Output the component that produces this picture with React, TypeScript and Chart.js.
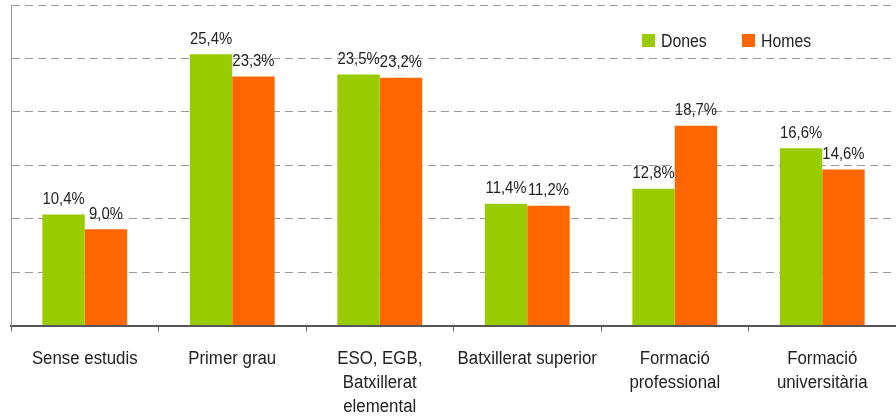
import React, { useEffect, useRef } from "react";
import { Chart, registerables } from "chart.js";

Chart.register(...registerables);

const categories: string[][] = [
  ["Sense estudis"],
  ["Primer grau"],
  ["ESO, EGB,", "Batxillerat", "elemental"],
  ["Batxillerat superior"],
  ["Formació", "professional"],
  ["Formació", "universitària"],
];
const dones = [10.4, 25.4, 23.5, 11.4, 12.8, 16.6];
const homes = [9.0, 23.3, 23.2, 11.2, 18.7, 14.6];
const seriesNames = ["Dones", "Homes"];
const seriesColors = ["#99CC00", "#FF6600"];

const FONT = "'Liberation Sans', Arial, sans-serif";
const SQUEEZE = 0.93;
const TEXT = "#222";

const fmt = (v: number) => v.toFixed(1).replace(".", ",") + "%";

function narrowText(ctx: CanvasRenderingContext2D, text: string, x: number, y: number, sx: number) {
  ctx.save();
  ctx.translate(x, y);
  ctx.scale(sx, 1);
  ctx.fillText(text, 0, 0);
  ctx.restore();
}

const labelsPlugin = {
  id: "valueLabels",
  afterDatasetsDraw(chart: any) {
    const ctx = chart.ctx;
    ctx.save();
    ctx.font = `16px ${FONT}`;
    ctx.fillStyle = TEXT;
    ctx.textAlign = "center";
    ctx.textBaseline = "alphabetic";
    chart.data.datasets.forEach((ds: any, i: number) => {
      const meta = chart.getDatasetMeta(i);
      meta.data.forEach((bar: any, j: number) => {
        narrowText(ctx, fmt(ds.data[j]), bar.x, bar.y - 10.5, SQUEEZE);
      });
    });
    ctx.restore();
  },
};

const xLabelsPlugin = {
  id: "xLabels",
  afterDraw(chart: any) {
    const ctx = chart.ctx;
    const xs = chart.scales.x;
    const base = chart.chartArea.bottom;
    ctx.save();
    ctx.font = `18px ${FONT}`;
    ctx.fillStyle = TEXT;
    ctx.textAlign = "center";
    ctx.textBaseline = "alphabetic";
    categories.forEach((lines, i) => {
      const x = xs.getPixelForTick(i);
      lines.forEach((line, k) => {
        narrowText(ctx, line, x, base + 38 + k * 24, 0.935);
      });
    });
    ctx.restore();
  },
};

const legendPlugin = {
  id: "customLegend",
  afterDraw(chart: any) {
    const ctx = chart.ctx;
    const area = chart.chartArea;
    ctx.save();
    ctx.font = `18px ${FONT}`;
    ctx.textBaseline = "alphabetic";
    ctx.textAlign = "left";
    let x = area.left + 631;
    const y = area.top + 29;
    seriesNames.forEach((name, i) => {
      ctx.fillStyle = seriesColors[i];
      ctx.fillRect(x, y, 13, 13);
      ctx.fillStyle = TEXT;
      narrowText(ctx, name, x + 19, y + 12.5, 0.88);
      x += 100;
    });
    ctx.restore();
  },
};

export default function App() {
  const ref = useRef<HTMLCanvasElement>(null);
  useEffect(() => {
    const chart = new Chart(ref.current!, {
      type: "bar",
      data: {
        labels: categories.map((l) => l.join(" ")),
        datasets: [
          { label: seriesNames[0], data: dones, backgroundColor: seriesColors[0], barPercentage: 1, categoryPercentage: 0.575 },
          { label: seriesNames[1], data: homes, backgroundColor: seriesColors[1], barPercentage: 1, categoryPercentage: 0.575 },
        ],
      },
      options: {
        animation: false,
        responsive: false,
        maintainAspectRatio: false,
        layout: { padding: { left: 11, top: 5, right: 0, bottom: 0 } },
        plugins: { legend: { display: false }, tooltip: { enabled: false } },
        scales: {
          x: {
            grid: { offset: true, drawOnChartArea: false, drawTicks: true, tickLength: 6, color: "#666", lineWidth: 1 },
            border: { display: true, color: "#555", width: 2 },
            ticks: { display: false, autoSkip: false },
            afterFit: (s: any) => { s.height = 90.5; },
          },
          y: {
            min: 0,
            max: 30,
            ticks: { display: false, stepSize: 5 },
            grid: { drawTicks: false, color: "#999", lineWidth: 1 },
            border: { display: true, color: "#999", width: 1, dash: [8, 5] },
            afterFit: (s: any) => { s.width = 0; },
          },
        },
      },
      plugins: [labelsPlugin, xLabelsPlugin, legendPlugin],
    });
    return () => chart.destroy();
  }, []);
  return (
    <div style={{ position: "absolute", left: 0, top: 0, width: 896, height: 416 }}>
      <canvas ref={ref} width={896} height={416} style={{ width: 896, height: 416 }} />
    </div>
  );
}
